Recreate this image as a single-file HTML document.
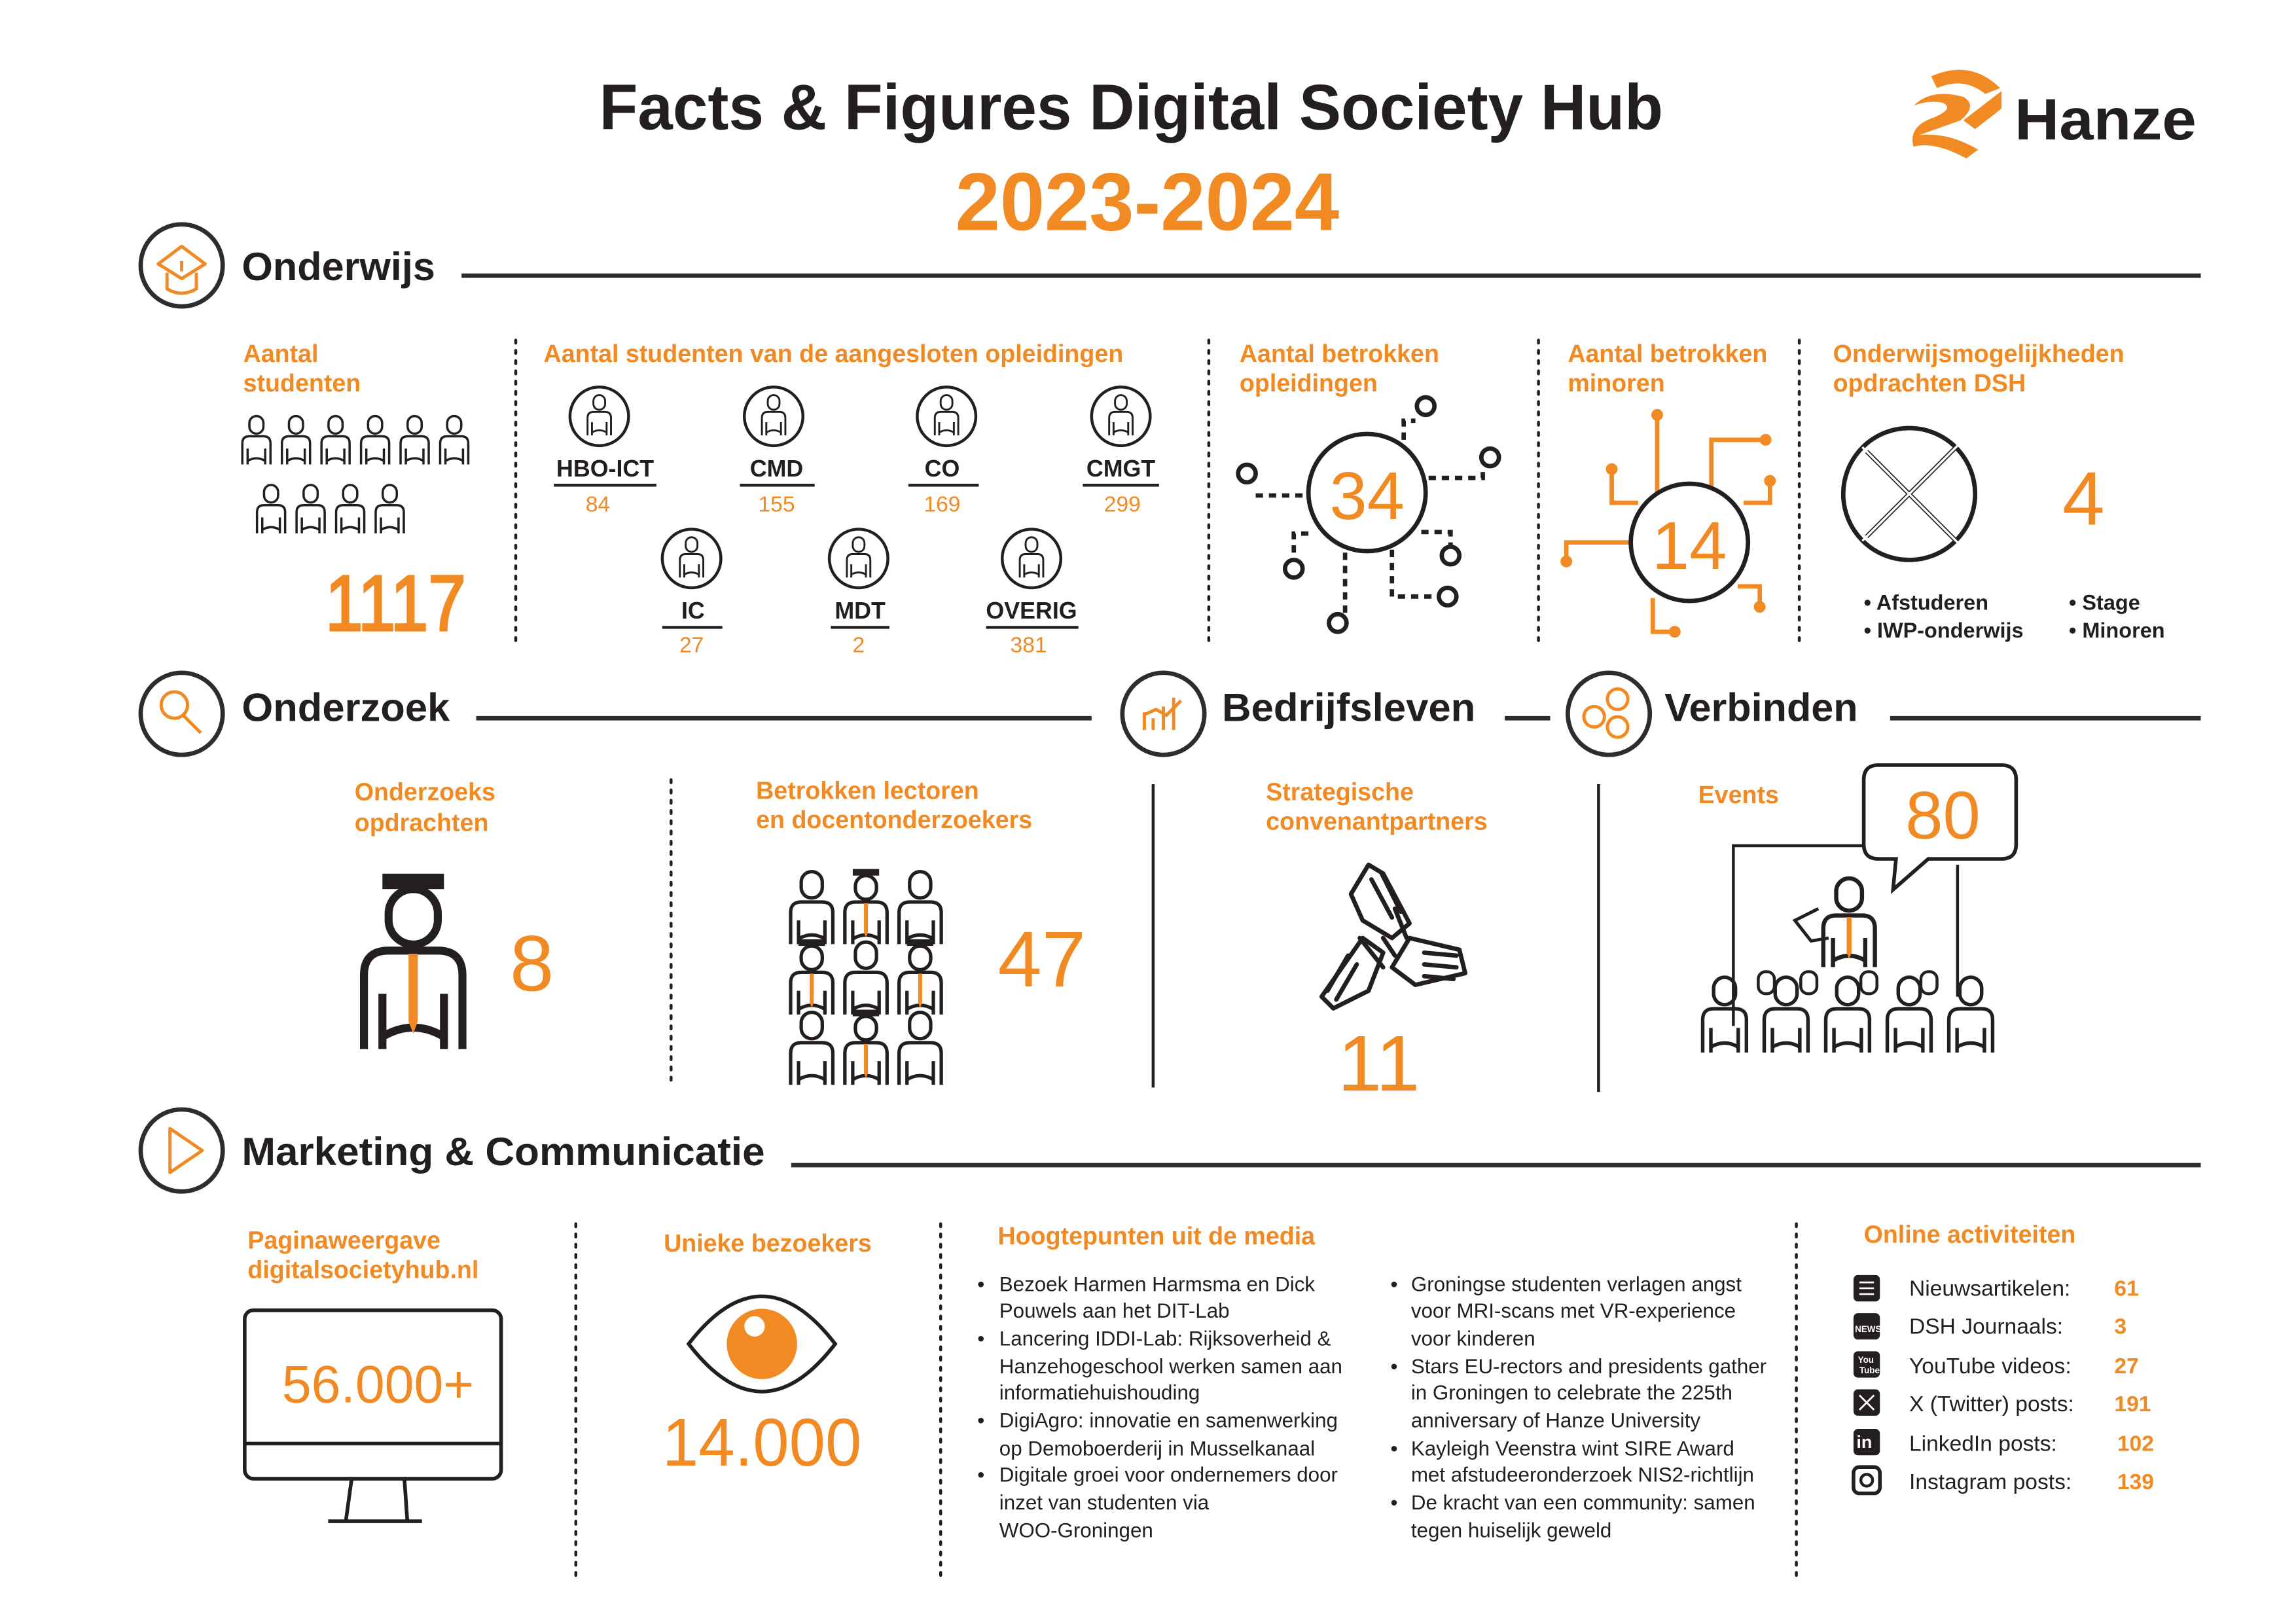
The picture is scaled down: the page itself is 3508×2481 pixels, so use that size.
<!DOCTYPE html>
<html><head><meta charset="utf-8"><style>
html,body{margin:0;padding:0;background:#fff}
svg{display:block}
text{font-family:"Liberation Sans",Arial,sans-serif}
.o{fill:#f18a22;font-weight:bold}
.b{fill:#231f20;font-weight:bold}
.t{fill:#231f20}
</style></head><body>
<svg width="3508" height="2481" viewBox="0 0 1567 1108" xmlns="http://www.w3.org/2000/svg">
<defs>
<symbol id="p" viewBox="0 0 40 60">
<g fill="none" stroke="#231f20" stroke-width="2.6" stroke-linejoin="round">
<rect x="12" y="3" width="16" height="20" rx="8"/>
<path d="M4 58V34Q4 26 12 26H28Q36 26 36 34V58M10 58V40M30 58V40M10 54Q20 48 30 54"/>
</g></symbol>
<symbol id="pt" viewBox="0 0 40 60">
<g fill="none" stroke="#231f20" stroke-width="2.6" stroke-linejoin="round">
<rect x="12" y="3" width="16" height="20" rx="8"/>
<path d="M4 58V34Q4 26 12 26H28Q36 26 36 34V58M10 58V40M30 58V40M10 54Q20 48 30 54"/>
</g><path d="M18.5 27h3v22l-1.5 4-1.5-4z" fill="#f18a22"/></symbol>
<symbol id="pc" viewBox="0 0 40 60">
<g fill="none" stroke="#231f20" stroke-width="2.6" stroke-linejoin="round">
<rect x="12" y="6" width="16" height="18" rx="8"/>
<path d="M4 58V34Q4 26 12 26H28Q36 26 36 34V58M10 58V40M30 58V40M10 54Q20 48 30 54"/>
</g><rect x="10" y="1" width="20" height="5" fill="#231f20"/><path d="M18.5 27h3v22l-1.5 4-1.5-4z" fill="#f18a22"/></symbol>
</defs>

<text x="772" y="88" text-anchor="middle" class="b" font-size="44" textLength="726" lengthAdjust="spacingAndGlyphs">Facts &amp; Figures Digital Society Hub</text>
<text x="783" y="157" text-anchor="middle" class="o" font-size="56" textLength="262" lengthAdjust="spacingAndGlyphs">2023-2024</text>
<g fill="#f18a22">
<path d="M1318 52Q1345 40 1365 60L1355 64Q1340 52 1322 60Z"/>
<path d="M1306 72Q1318 60 1340 66Q1350 72 1338 82L1310 92Q1330 90 1350 102L1342 108Q1320 96 1306 100Q1302 86 1320 80Q1334 74 1326 70Q1316 68 1306 72Z"/>
<path d="M1340 82L1366 62L1366 74L1348 88Z"/>
</g>
<text x="1375" y="95" class="b" font-size="40" textLength="124" lengthAdjust="spacingAndGlyphs">Hanze</text>

<g fill="none" stroke="#2d2d2d" stroke-width="3">
<circle cx="124" cy="181" r="28"/><circle cx="124" cy="487" r="28"/><circle cx="794" cy="487" r="28"/><circle cx="1098" cy="487" r="28"/><circle cx="124" cy="785" r="28"/>
<line x1="315" y1="188" x2="1502" y2="188"/><line x1="325" y1="490" x2="745" y2="490"/><line x1="1027" y1="490" x2="1058" y2="490"/><line x1="1290" y1="490" x2="1502" y2="490"/><line x1="540" y1="795" x2="1502" y2="795"/>
</g>
<g fill="none" stroke="#f18a22" stroke-width="2.2" stroke-linejoin="round">
<path d="M108 180L124 168L140 180L124 190Z"/><path d="M114 186V197Q124 203 134 197V186"/><path d="M124 178V185"/>
<circle cx="119" cy="481" r="9"/><path d="M125 488L137 500"/>
<path d="M781 498V486M787 498V490M794 498V482M801 498V476"/><path d="M780 488L789 484L796 488L806 478"/>
<circle cx="1088" cy="489" r="7"/><circle cx="1104" cy="477" r="7"/><circle cx="1104" cy="496" r="7"/>
<path d="M116 770L138 785L116 800Z"/>
</g>
<text x="165" y="191" class="b" font-size="27" textLength="132" lengthAdjust="spacingAndGlyphs">Onderwijs</text>
<text x="165" y="492" class="b" font-size="27" textLength="142" lengthAdjust="spacingAndGlyphs">Onderzoek</text>
<text x="834" y="492" class="b" font-size="27" textLength="173" lengthAdjust="spacingAndGlyphs">Bedrijfsleven</text>
<text x="1136" y="492" class="b" font-size="27" textLength="132" lengthAdjust="spacingAndGlyphs">Verbinden</text>
<text x="165" y="795" class="b" font-size="27" textLength="357" lengthAdjust="spacingAndGlyphs">Marketing &amp; Communicatie</text>

<g stroke="#231f20" stroke-width="2" stroke-dasharray="2 5" stroke-linecap="round">
<line x1="352" y1="232" x2="352" y2="440"/><line x1="825" y1="232" x2="825" y2="440"/><line x1="1050" y1="232" x2="1050" y2="440"/><line x1="1228" y1="232" x2="1228" y2="440"/>
<line x1="458" y1="532" x2="458" y2="742"/>
<line x1="393" y1="835" x2="393" y2="1075"/><line x1="642" y1="835" x2="642" y2="1075"/><line x1="1226" y1="835" x2="1226" y2="1075"/>
</g>
<g font-size="16.8">
<text x="166" y="247" class="o">Aantal</text><text x="166" y="267" class="o">studenten</text>
<text x="371" y="247" class="o">Aantal studenten van de aangesloten opleidingen</text>
<text x="846" y="247" class="o">Aantal betrokken</text><text x="846" y="267" class="o">opleidingen</text>
<text x="1070" y="247" class="o">Aantal betrokken</text><text x="1070" y="267" class="o">minoren</text>
<text x="1251" y="247" class="o">Onderwijsmogelijkheden</text><text x="1251" y="267" class="o">opdrachten DSH</text>
</g>
<g>
<use href="#p" x="163" y="282" width="24" height="36"/><use href="#p" x="190" y="282" width="24" height="36"/><use href="#p" x="217" y="282" width="24" height="36"/><use href="#p" x="244" y="282" width="24" height="36"/><use href="#p" x="271" y="282" width="24" height="36"/><use href="#p" x="298" y="282" width="24" height="36"/>
<use href="#p" x="173" y="329" width="24" height="36"/><use href="#p" x="200" y="329" width="24" height="36"/><use href="#p" x="227" y="329" width="24" height="36"/><use href="#p" x="254" y="329" width="24" height="36"/>
</g>
<text x="270" y="430" text-anchor="middle" class="o" font-size="54" textLength="96" lengthAdjust="spacingAndGlyphs" style="font-weight:normal;stroke:#f18a22;stroke-width:1.5">1117</text>

<g fill="none" stroke="#231f20" stroke-width="2">
<circle cx="409" cy="284" r="20"/><circle cx="528" cy="284" r="20"/><circle cx="646" cy="284" r="20"/><circle cx="765" cy="284" r="20"/>
<circle cx="472" cy="381" r="20"/><circle cx="586" cy="381" r="20"/><circle cx="704" cy="381" r="20"/>
<line x1="378" y1="331" x2="448" y2="331"/><line x1="505" y1="331" x2="556" y2="331"/><line x1="620" y1="331" x2="668" y2="331"/><line x1="739" y1="331" x2="791" y2="331"/>
<line x1="452" y1="428" x2="493" y2="428"/><line x1="567" y1="428" x2="607" y2="428"/><line x1="673" y1="428" x2="736" y2="428"/>
</g>
<use href="#p" x="399" y="268" width="20" height="30"/><use href="#p" x="518" y="268" width="20" height="30"/><use href="#p" x="636" y="268" width="20" height="30"/><use href="#p" x="755" y="268" width="20" height="30"/>
<use href="#p" x="462" y="365" width="20" height="30"/><use href="#p" x="576" y="365" width="20" height="30"/><use href="#p" x="694" y="365" width="20" height="30"/>
<g font-size="16" class="b" text-anchor="middle">
<text x="413" y="325">HBO-ICT</text><text x="530" y="325">CMD</text><text x="643" y="325">CO</text><text x="765" y="325">CMGT</text>
<text x="473" y="422">IC</text><text x="587" y="422">MDT</text><text x="704" y="422">OVERIG</text>
</g>
<g font-size="15" class="o" text-anchor="middle" style="font-weight:normal">
<text x="408" y="349">84</text><text x="530" y="349">155</text><text x="643" y="349">169</text><text x="766" y="349">299</text>
<text x="472" y="445">27</text><text x="586" y="445">2</text><text x="702" y="445">381</text>
</g>

<g fill="none" stroke="#231f20" stroke-width="3">
<circle cx="933" cy="336" r="40"/>
<g stroke-dasharray="5 4"><path d="M958 300V287H966"/><path d="M975 326H1012V318"/><path d="M857 338H893"/><path d="M893 364H883V382"/><path d="M918 377V418"/><path d="M950 375V407H981"/><path d="M970 363H990V372"/></g>
<circle cx="973" cy="277" r="6"/><circle cx="1017" cy="312" r="6"/><circle cx="851" cy="323" r="6"/><circle cx="883" cy="388" r="6"/><circle cx="913" cy="425" r="6"/><circle cx="990" cy="379" r="6"/><circle cx="988" cy="407" r="6"/>
</g>
<text x="933" y="354" text-anchor="middle" class="o" font-size="46" style="font-weight:normal">34</text>
<g fill="none" stroke="#f18a22" stroke-width="3">
<path d="M1131 283V346"/><path d="M1205 300H1168V343"/><path d="M1100 320V343H1118"/><path d="M1208 328V343H1190"/><path d="M1069 383V370H1113"/><path d="M1143 431H1128V408"/><path d="M1201 414V400H1186"/>
</g>
<g fill="#f18a22"><circle cx="1131" cy="283" r="4"/><circle cx="1205" cy="300" r="4"/><circle cx="1100" cy="320" r="4"/><circle cx="1208" cy="328" r="4"/><circle cx="1069" cy="383" r="4"/><circle cx="1143" cy="431" r="4"/><circle cx="1201" cy="414" r="4"/></g>
<circle cx="1153" cy="370" r="40" fill="#fff" stroke="#231f20" stroke-width="3"/>
<text x="1153" y="388" text-anchor="middle" class="o" font-size="46" style="font-weight:normal">14</text>
<g fill="none" stroke="#231f20" stroke-width="3"><circle cx="1303" cy="337" r="45"/><path d="M1274 308L1334 368M1274 366L1334 306"/></g>
<g fill="none" stroke="#fff" stroke-width="1.5"><path d="M1271 305L1337 371M1271 369L1337 303"/></g>
<text x="1422" y="358" text-anchor="middle" class="o" font-size="52" style="font-weight:normal">4</text>
<g font-size="14.5" class="b"><text x="1272" y="416">• Afstuderen</text><text x="1272" y="435">• IWP-onderwijs</text><text x="1412" y="416">• Stage</text><text x="1412" y="435">• Minoren</text></g>

<g stroke="#231f20" stroke-width="2"><line x1="787" y1="535" x2="787" y2="742"/><line x1="1091" y1="535" x2="1091" y2="745"/></g>
<g font-size="16.8">
<text x="242" y="546" class="o">Onderzoeks</text><text x="242" y="567" class="o">opdrachten</text>
<text x="516" y="545" class="o">Betrokken lectoren</text><text x="516" y="565" class="o">en docentonderzoekers</text>
<text x="864" y="546" class="o">Strategische</text><text x="864" y="566" class="o">convenantpartners</text>
<text x="1159" y="548" class="o">Events</text>
</g>
<use href="#pc" x="236" y="594" width="92" height="126"/>
<text x="363" y="676" text-anchor="middle" class="o" font-size="54" style="font-weight:normal">8</text>
<g>
<use href="#p" x="536" y="592" width="36" height="54"/><use href="#pc" x="573" y="592" width="36" height="54"/><use href="#p" x="610" y="592" width="36" height="54"/>
<use href="#pc" x="536" y="640" width="36" height="54"/><use href="#p" x="573" y="640" width="36" height="54"/><use href="#pc" x="610" y="640" width="36" height="54"/>
<use href="#p" x="536" y="688" width="36" height="54"/><use href="#pc" x="573" y="688" width="36" height="54"/><use href="#p" x="610" y="688" width="36" height="54"/>
</g>
<text x="711" y="673" text-anchor="middle" class="o" font-size="54" style="font-weight:normal">47</text>
<g fill="none" stroke="#231f20" stroke-width="3" stroke-linejoin="round" stroke-linecap="round">
<path d="M922 610L934 590L944 596L962 630L950 640L930 628Z"/><path d="M936 600L950 626M943 596L956 622"/>
<path d="M962 640L996 648L1000 664L966 672L950 660Z"/><path d="M972 650L994 652M972 658L994 660M972 666L992 668"/>
<path d="M916 660L902 680L910 688L934 676L944 650L930 640Z"/><path d="M906 676L920 652M912 682L926 658"/>
<path d="M944 640L952 652M928 640L944 660M952 620L960 640"/>
</g>
<text x="941" y="744" text-anchor="middle" class="o" font-size="54" style="font-weight:normal">11</text>
<g fill="none" stroke="#231f20" stroke-width="2">
<path d="M1183 700V577H1272"/><path d="M1336 590V680"/>
</g>
<path d="M1282 522H1366Q1376 522 1376 532V576Q1376 586 1366 586H1316L1292 607L1294 586H1282Q1272 586 1272 576V532Q1272 522 1282 522Z" fill="#fff" stroke="#231f20" stroke-width="2.5"/>
<text x="1326" y="572" text-anchor="middle" class="o" font-size="46" style="font-weight:normal">80</text>
<use href="#pt" x="1240" y="596" width="44" height="66"/>
<path d="M1241 620L1225 628L1236 642L1248 640" fill="none" stroke="#231f20" stroke-width="2.2"/>
<g>
<use href="#p" x="1158" y="664" width="38" height="56"/><use href="#p" x="1200" y="664" width="38" height="56"/><use href="#p" x="1242" y="664" width="38" height="56"/><use href="#p" x="1284" y="664" width="38" height="56"/><use href="#p" x="1326" y="664" width="38" height="56"/>
</g>
<g fill="none" stroke="#231f20" stroke-width="2"><rect x="1200" y="663" width="11" height="15" rx="5"/><rect x="1229" y="663" width="11" height="15" rx="5"/><rect x="1270" y="663" width="11" height="15" rx="5"/><rect x="1311" y="663" width="11" height="15" rx="5"/></g>

<g font-size="16.8">
<text x="169" y="852" class="o">Paginaweergave</text><text x="169" y="872" class="o">digitalsocietyhub.nl</text>
<text x="453" y="854" class="o">Unieke bezoekers</text>
<text x="681" y="849" class="o">Hoogtepunten uit de media</text>
<text x="1272" y="848" class="o">Online activiteiten</text>
</g>
<g fill="none" stroke="#231f20" stroke-width="2.5">
<rect x="167" y="894" width="175" height="115" rx="6"/><line x1="167" y1="985" x2="342" y2="985"/>
<path d="M240 1009L236 1038M276 1009L278 1038"/><line x1="224" y1="1038" x2="288" y2="1038"/>
</g>
<text x="258" y="957" text-anchor="middle" class="o" font-size="36" style="font-weight:normal">56.000+</text>
<path d="M470 917Q520 852 570 917Q520 982 470 917Z" fill="#fff" stroke="#231f20" stroke-width="2.5"/>
<circle cx="520" cy="917" r="24" fill="#f18a22"/><circle cx="515" cy="905" r="7" fill="#fff"/>
<text x="520" y="1000" text-anchor="middle" class="o" font-size="46" textLength="136" lengthAdjust="spacingAndGlyphs" style="font-weight:normal">14.000</text>
<g font-size="14" class="t">
<text x="667" y="881">•</text><text x="667" y="918">•</text><text x="667" y="974">•</text><text x="667" y="1011">•</text>
<text x="682" y="881">Bezoek Harmen Harmsma en Dick</text>
<text x="682" y="899">Pouwels aan het DIT-Lab</text>
<text x="682" y="918">Lancering IDDI-Lab: Rijksoverheid &amp;</text>
<text x="682" y="937">Hanzehogeschool werken samen aan</text>
<text x="682" y="955">informatiehuishouding</text>
<text x="682" y="974">DigiAgro: innovatie en samenwerking</text>
<text x="682" y="993">op Demoboerderij in Musselkanaal</text>
<text x="682" y="1011">Digitale groei voor ondernemers door</text>
<text x="682" y="1030">inzet van studenten via</text>
<text x="682" y="1049">WOO-Groningen</text>
<text x="949" y="881">•</text><text x="949" y="937">•</text><text x="949" y="993">•</text><text x="949" y="1030">•</text>
<text x="963" y="881">Groningse studenten verlagen angst</text>
<text x="963" y="899">voor MRI-scans met VR-experience</text>
<text x="963" y="918">voor kinderen</text>
<text x="963" y="937">Stars EU-rectors and presidents gather</text>
<text x="963" y="955">in Groningen to celebrate the 225th</text>
<text x="963" y="974">anniversary of Hanze University</text>
<text x="963" y="993">Kayleigh Veenstra wint SIRE Award</text>
<text x="963" y="1011">met afstudeeronderzoek NIS2-richtlijn</text>
<text x="963" y="1030">De kracht van een community: samen</text>
<text x="963" y="1049">tegen huiselijk geweld</text>
</g>
<g fill="#231f20">
<rect x="1265" y="870" width="18" height="18" rx="3"/><rect x="1265" y="896" width="18" height="18" rx="3"/><rect x="1265" y="922" width="18" height="18" rx="3"/><rect x="1265" y="948" width="18" height="18" rx="3"/><rect x="1265" y="975" width="18" height="18" rx="3"/>
<rect x="1265" y="1001" width="18" height="18" rx="4" fill="none" stroke="#231f20" stroke-width="2.5"/>
</g>
<g stroke="#fff" stroke-width="1.2" fill="none"><path d="M1269 875H1279M1269 879H1279M1269 883H1279"/><path d="M1269 952L1279 962M1279 952L1269 962"/></g>
<circle cx="1274" cy="1010" r="4" fill="none" stroke="#231f20" stroke-width="2"/>
<text x="1267" y="988" font-size="12" fill="#fff" font-weight="bold">in</text>
<text x="1266" y="909" font-size="6" fill="#fff" font-weight="bold">NEWS</text>
<text x="1268" y="930" font-size="6" fill="#fff" font-weight="bold">You</text>
<text x="1269" y="937" font-size="6" fill="#fff" font-weight="bold">Tube</text>
<g font-size="15" class="t">
<text x="1303" y="884">Nieuwsartikelen:</text><text x="1303" y="910">DSH Journaals:</text><text x="1303" y="937">YouTube videos:</text><text x="1303" y="963">X (Twitter) posts:</text><text x="1303" y="990">LinkedIn posts:</text><text x="1303" y="1016">Instagram posts:</text>
</g>
<g font-size="15" class="o">
<text x="1443" y="884">61</text><text x="1443" y="910">3</text><text x="1443" y="937">27</text><text x="1443" y="963">191</text><text x="1445" y="990">102</text><text x="1445" y="1016">139</text>
</g>
</svg>
</body></html>
